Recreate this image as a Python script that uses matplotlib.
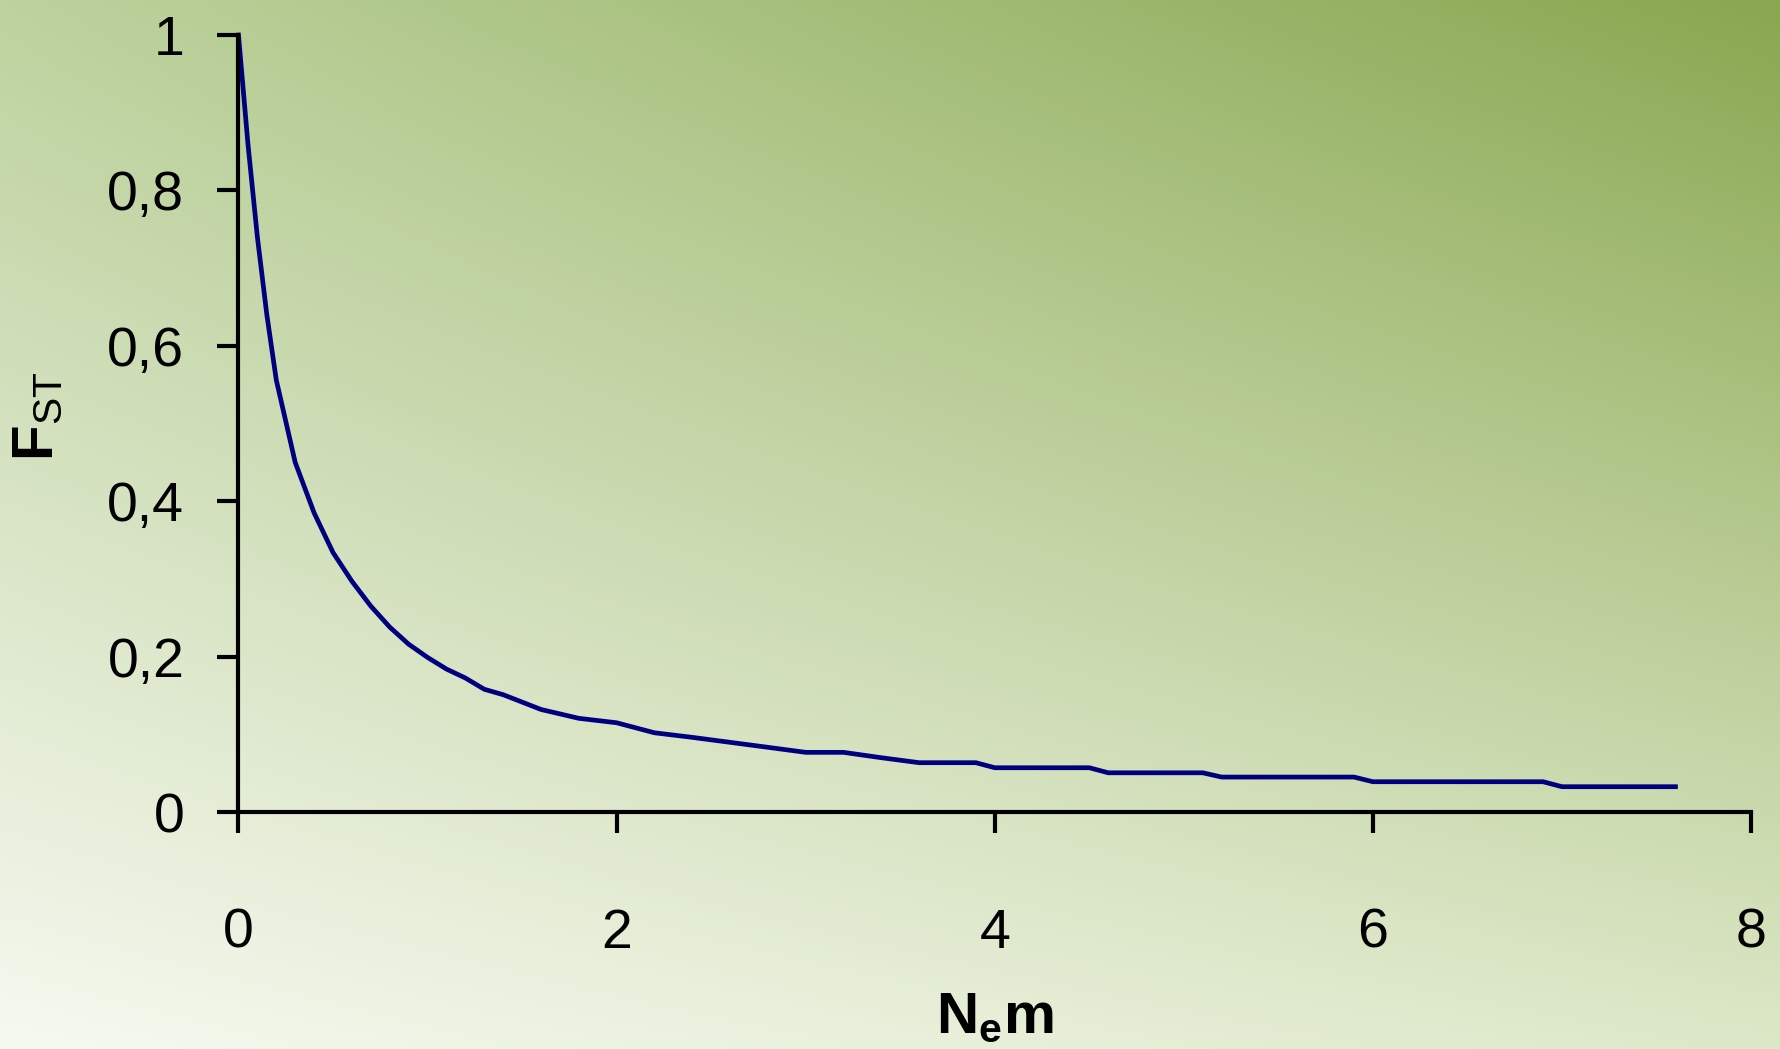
import numpy as np
import matplotlib
matplotlib.use("Agg")
import matplotlib.pyplot as plt

plt.rcParams['font.family'] = ['Liberation Sans', 'DejaVu Sans']
plt.rcParams['mathtext.fontset'] = 'custom'
plt.rcParams['mathtext.rm'] = 'Liberation Sans'
plt.rcParams['mathtext.bf'] = 'Liberation Sans:bold'

# values
nem = [0, 0.05, 0.1, 0.15, 0.2, 0.3, 0.4, 0.5, 0.6, 0.7, 0.8, 0.9, 1.0, 1.1,
       1.2, 1.3, 1.4, 1.6, 1.8, 2.0, 2.2, 2.4, 2.6, 2.8, 3.0, 3.2, 3.4, 3.6,
       3.9, 4.0, 4.5, 4.6, 5.1, 5.2, 5.9, 6.0, 6.9, 7.0, 7.6]
fst = [1.0, 0.86, 0.74, 0.64, 0.556, 0.45, 0.385, 0.334, 0.297, 0.265, 0.238,
       0.216, 0.199, 0.184, 0.1725, 0.158, 0.151, 0.132, 0.1206, 0.1149,
       0.102, 0.0961, 0.0897, 0.0833, 0.0768, 0.0768, 0.0699, 0.0635, 0.0635,
       0.057, 0.057, 0.0505, 0.0505, 0.045, 0.045, 0.039, 0.039, 0.0326, 0.0326]

xticks = [0, 2, 4, 6, 8]
xtick_labels = ['0', '2', '4', '6', '8']
yticks = [0, 0.2, 0.4, 0.6, 0.8, 1]
ytick_labels = ['0', '0,2', '0,4', '0,6', '0,8', '1']

fig = plt.figure(figsize=(17.81, 10.49), dpi=100)

# background gradient (corner colours)
tl = np.array([189, 210, 158]) / 255
tr = np.array([137, 167, 80]) / 255
bl = np.array([246, 249, 240]) / 255
br = np.array([221, 232, 200]) / 255
u = np.linspace(0, 1, 300)[None, :, None]
v = np.linspace(0, 1, 200)[:, None, None]
top = tl + (tr - tl) * u
bot = bl + (br - bl) * u
grad = top + (bot - top) * v
bg = fig.add_axes([0, 0, 1, 1], zorder=0)
bg.imshow(grad, aspect='auto', extent=[0, 1, 0, 1], interpolation='bilinear')
bg.axis('off')

ax = fig.add_axes([0.1339, 0.2259, 0.8493, 0.7407], zorder=1)
ax.patch.set_alpha(0)
ax.plot(nem, fst, color='#00007f', linewidth=3.4, solid_joinstyle='miter',
        clip_on=False)

ax.set_xlim(0, 8)
ax.set_ylim(0, 1)
ax.spines['top'].set_visible(False)
ax.spines['right'].set_visible(False)
for s in ('left', 'bottom'):
    ax.spines[s].set_linewidth(3.0)
    ax.spines[s].set_color('black')

ax.set_xticks(xticks)
ax.set_xticklabels(xtick_labels)
ax.set_yticks(yticks)
ax.set_yticklabels(ytick_labels)
ax.tick_params(axis='x', direction='out', length=15, width=3.0, pad=54,
               labelsize=40)
ax.tick_params(axis='y', direction='out', length=15, width=3.0, pad=24,
               labelsize=40)

ax.set_xlabel(r'$\mathbf{N}_{\mathbf{e}}\mathbf{m}$', fontsize=42)
ax.xaxis.set_label_coords(0.5, -0.23)
ax.set_ylabel(r'$\mathbf{F}_{\mathrm{ST}}$', fontsize=42)
ax.yaxis.set_label_coords(-0.115, 0.51)

fig.savefig('out.png', dpi=100)
